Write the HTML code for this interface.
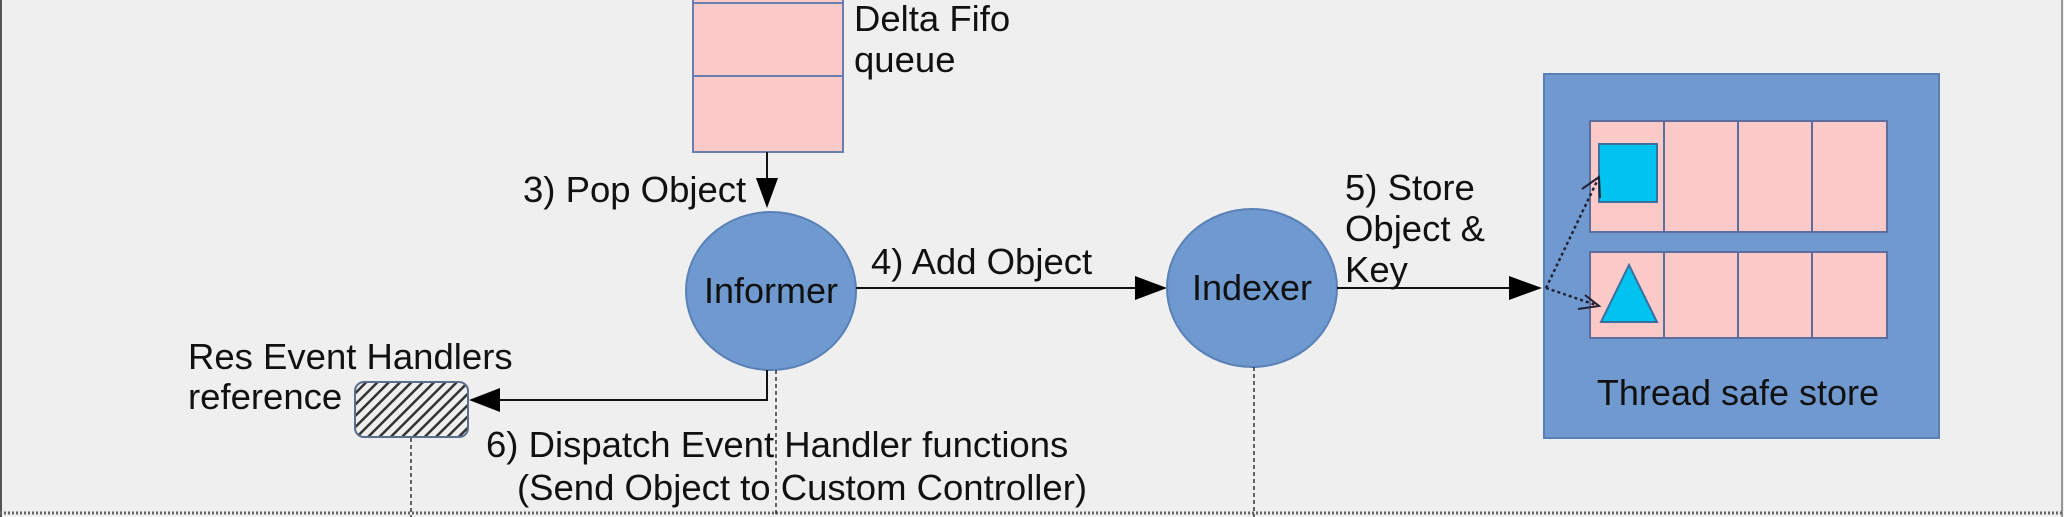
<!DOCTYPE html>
<html><head><meta charset="utf-8"><style>
html,body{margin:0;padding:0;background:#efefef;}
svg{display:block;}
text{font-family:"Liberation Sans",sans-serif;fill:#111;}
</style></head><body>
<svg width="2064" height="517" viewBox="0 0 2064 517" xmlns="http://www.w3.org/2000/svg">
<defs>
<pattern id="hatch" width="8" height="8" patternUnits="userSpaceOnUse" patternTransform="rotate(45)">
<rect width="8" height="8" fill="#efefef"/>
<rect x="0" y="0" width="2.5" height="8" fill="#333"/>
</pattern>
</defs>
<rect width="2064" height="517" fill="#efefef"/>
<line x1="1" y1="0" x2="1" y2="517" stroke="#555" stroke-width="2"/>
<line x1="2062" y1="0" x2="2062" y2="517" stroke="#999" stroke-width="2"/>
<line x1="0" y1="513" x2="2064" y2="513" stroke="#666" stroke-width="3" stroke-dasharray="2,2"/>

<!-- Delta fifo -->
<rect x="693" y="-10" width="150" height="162" fill="#fcc9c9" stroke="#6a7fb0" stroke-width="2"/>
<line x1="693" y1="3" x2="843" y2="3" stroke="#6a7fb0" stroke-width="2"/>
<line x1="693" y1="76" x2="843" y2="76" stroke="#6a7fb0" stroke-width="2"/>
<text x="854" y="31" font-size="36.5">Delta Fifo</text>
<text x="854" y="72" font-size="36.5">queue</text>

<!-- pop arrow -->
<line x1="767" y1="152" x2="767" y2="180" stroke="#111" stroke-width="2"/>
<polygon points="756,178 778,178 767,208" fill="#000"/>
<text x="523" y="202" font-size="36.5">3) Pop Object</text>

<!-- Informer -->
<ellipse cx="771" cy="291" rx="85" ry="79" fill="#6f9ad0" stroke="#5a80b8" stroke-width="2"/>
<text x="771" y="303" font-size="36" text-anchor="middle">Informer</text>

<!-- add object arrow -->
<line x1="856" y1="288" x2="1140" y2="288" stroke="#111" stroke-width="2"/>
<polygon points="1135,276 1135,300 1167,288" fill="#000"/>
<text x="871" y="274" font-size="36.5">4) Add Object</text>

<!-- Indexer -->
<ellipse cx="1252" cy="288" rx="85" ry="79" fill="#6f9ad0" stroke="#5a80b8" stroke-width="2"/>
<text x="1252" y="300" font-size="36" text-anchor="middle">Indexer</text>

<!-- store arrow -->
<line x1="1337" y1="288" x2="1515" y2="288" stroke="#111" stroke-width="2"/>
<polygon points="1509,276 1509,300 1542,288" fill="#000"/>
<text x="1345" y="200" font-size="36.5">5) Store</text>
<text x="1345" y="241" font-size="36.5">Object &amp;</text>
<text x="1345" y="282" font-size="36.5">Key</text>

<!-- store -->
<rect x="1544" y="74" width="395" height="364" fill="#7099cf" stroke="#5a7fb8" stroke-width="2"/>
<rect x="1590" y="121" width="297" height="111" fill="#fcc9c9" stroke="#5a6fa0" stroke-width="2"/>
<rect x="1590" y="252" width="297" height="86" fill="#fcc9c9" stroke="#5a6fa0" stroke-width="2"/>
<g stroke="#5a6fa0" stroke-width="2">
<line x1="1664" y1="121" x2="1664" y2="232"/><line x1="1738" y1="121" x2="1738" y2="232"/><line x1="1812" y1="121" x2="1812" y2="232"/>
<line x1="1664" y1="252" x2="1664" y2="338"/><line x1="1738" y1="252" x2="1738" y2="338"/><line x1="1812" y1="252" x2="1812" y2="338"/>
</g>
<rect x="1599" y="144" width="58" height="58" fill="#00c3f0" stroke="#3a6fa0" stroke-width="2"/>
<polygon points="1629,265 1657,322 1601,322" fill="#00c3f0" stroke="#3a6fa0" stroke-width="2"/>
<g stroke="#223" stroke-width="2.5" fill="none" stroke-dasharray="3,3">
<line x1="1546" y1="288" x2="1599" y2="177"/>
<line x1="1546" y1="288" x2="1599" y2="306"/>
</g>
<g stroke="#223" stroke-width="2" fill="none">
<polyline points="1582,189 1599,177 1600,198"/>
<polyline points="1585,295 1599,306 1578,309"/>
</g>
<text x="1738" y="405" font-size="36" text-anchor="middle">Thread safe store</text>

<!-- dispatch -->
<polyline points="767,370 767,400 495,400" fill="none" stroke="#111" stroke-width="2"/>
<polygon points="500,388 500,412 469,400" fill="#000"/>
<rect x="355" y="382" width="113" height="55" rx="9" fill="url(#hatch)" stroke="#5a6f90" stroke-width="2"/>
<text x="188" y="369" font-size="36.5">Res Event Handlers</text>
<text x="188" y="409" font-size="36.5">reference</text>
<text x="486" y="457" font-size="36.5">6) Dispatch Event Handler functions</text>
<text x="517" y="500" font-size="36.5">(Send Object to Custom Controller)</text>

<!-- dotted verticals -->
<g stroke="#333" stroke-width="1.5" stroke-dasharray="4,3">
<line x1="776" y1="370" x2="776" y2="517"/>
<line x1="411" y1="438" x2="411" y2="517"/>
<line x1="1254" y1="367" x2="1254" y2="517"/>
</g>
</svg>
</body></html>
